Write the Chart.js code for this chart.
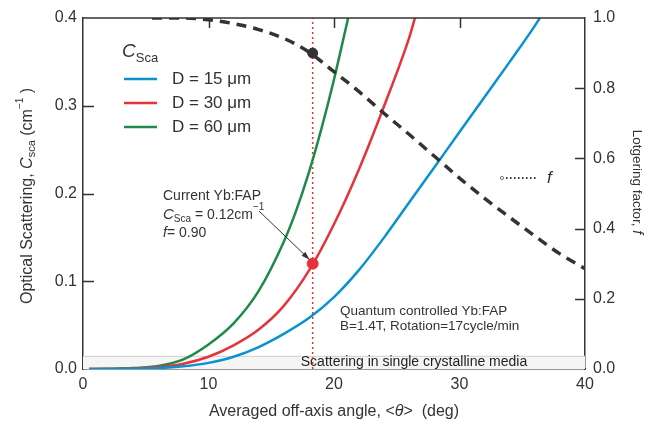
<!DOCTYPE html>
<html>
<head>
<meta charset="utf-8">
<script src="https://cdn.jsdelivr.net/npm/chart.js@4/dist/chart.umd.min.js"></script>
<style>
  html, body { margin: 0; padding: 0; background: #fff; }
  #wrap { width: 648px; height: 429px; }
</style>
</head>
<body>
<div id="wrap"><canvas id="chart" width="648" height="429"></canvas></div>
<script>
// Scattering curves, C_sca (cm^-1) vs averaged off-axis angle (deg)
const thetaD15 = [0.5, 2, 4, 6, 8, 10, 12, 14, 16, 18, 20, 22, 24, 26, 28, 30, 32, 34, 36, 36.4];
const csD15    = [0, 0, 0.0003, 0.001, 0.003, 0.007, 0.014, 0.025, 0.040, 0.058, 0.082, 0.113, 0.150, 0.190, 0.230, 0.270, 0.310, 0.350, 0.391, 0.4];

const thetaD30 = [0.5, 2, 4, 6, 8, 10, 12, 14, 16, 18, 20, 22, 24, 26, 26.45];
const csD30    = [0, 0.0001, 0.0007, 0.0022, 0.006, 0.014, 0.027, 0.045, 0.072, 0.112, 0.165, 0.228, 0.300, 0.378, 0.4];

const thetaD60 = [0.5, 2, 4, 6, 8, 10, 12, 14, 16, 17, 18, 19, 20, 21, 21.13];
const csD60    = [0, 0.0002, 0.001, 0.0035, 0.011, 0.028, 0.052, 0.089, 0.145, 0.181, 0.224, 0.274, 0.330, 0.392, 0.4];

// Lotgering factor f (right axis)
const thetaF = [5.5, 8, 10, 12, 14, 16, 18, 20, 22, 24, 26, 28, 30, 32, 34, 36, 38, 40];
const valF   = [1.0, 1.0, 0.995, 0.984, 0.967, 0.942, 0.903, 0.847, 0.79, 0.728, 0.668, 0.606, 0.544, 0.486, 0.432, 0.379, 0.328, 0.286];

// current Yb:FAP point
const currentTheta = 18.3;
const currentCsca = 0.12;
const currentF = 0.90;

// scattering floor band
const bandTop = 0.015;

const xTicks = [0, 10, 20, 30, 40];
const yTicks = [0, 0.1, 0.2, 0.3, 0.4];
const y2Ticks = [0, 0.2, 0.4, 0.6, 0.8, 1.0];

const legendLabels = ["D = 15 \u03bcm", "D = 30 \u03bcm", "D = 60 \u03bcm"];
const BLUE = "#0a91d2", RED = "#e5323b", GREEN = "#1d8a47", INK = "#333333";
const FONT = "'Liberation Sans', Arial, sans-serif";

function pts(xs, ys) {
  return xs.map((x, i) => ({ x: x, y: ys[i] }));
}

// draw a row of text pieces: [text, font, dy]
function drawRuns(ctx, parts, x, y, align) {
  let total = 0;
  parts.forEach(p => { ctx.font = p[1]; total += ctx.measureText(p[0]).width; });
  let cx = align === "center" ? x - total / 2 : x;
  ctx.textAlign = "left";
  ctx.textBaseline = "middle";
  parts.forEach(p => {
    ctx.font = p[1];
    ctx.fillText(p[0], cx, y + (p[2] || 0));
    cx += ctx.measureText(p[0]).width;
  });
}

const decor = {
  id: "decor",
  beforeDatasetsDraw(chart) {
    const ctx = chart.ctx, a = chart.chartArea, y = chart.scales.y;
    const top = y.getPixelForValue(bandTop);
    ctx.save();
    ctx.fillStyle = "#f5f5f5";
    ctx.fillRect(a.left, top, a.right - a.left, a.bottom - top);
    ctx.strokeStyle = "#cfcfcf";
    ctx.lineWidth = 1;
    ctx.beginPath();
    ctx.moveTo(a.left, top + 0.5);
    ctx.lineTo(a.right, top + 0.5);
    ctx.stroke();
    ctx.fillStyle = "#222";
    drawRuns(ctx, [["Scattering in single crystalline media", "14px " + FONT]], 414, (top + a.bottom) / 2, "center");
    ctx.restore();
  },
  afterDatasetsDraw(chart) {
    const ctx = chart.ctx, a = chart.chartArea;
    const sx = chart.scales.x, sy = chart.scales.y, sy2 = chart.scales.y2;
    ctx.save();

    // frame top line + inward ticks
    ctx.strokeStyle = INK;
    ctx.lineWidth = 1.5;
    ctx.beginPath();
    ctx.moveTo(a.left, a.top);
    ctx.lineTo(a.right, a.top);
    yTicks.slice(1, -1).forEach(v => {
      const py = Math.round(sy.getPixelForValue(v)) + 0.5;
      ctx.moveTo(a.left, py); ctx.lineTo(a.left + 11, py);
    });
    y2Ticks.slice(1, -1).forEach(v => {
      const py = Math.round(sy2.getPixelForValue(v)) + 0.5;
      ctx.moveTo(a.right, py); ctx.lineTo(a.right - 10, py);
    });
    xTicks.slice(1, -1).forEach(v => {
      const px = Math.round(sx.getPixelForValue(v)) + 0.5;
      ctx.moveTo(px, a.top); ctx.lineTo(px, a.top + 10);
    });
    ctx.stroke();

    ctx.fillStyle = INK;

    // legend
    drawRuns(ctx, [["C", "italic 19px " + FONT], ["Sca", "13px " + FONT, 6]], 122, 52, "left");
    [BLUE, RED, GREEN].forEach((c, i) => {
      const ly = 79 + i * 24;
      ctx.strokeStyle = c;
      ctx.lineWidth = 2.5;
      ctx.beginPath();
      ctx.moveTo(124, ly); ctx.lineTo(157, ly);
      ctx.stroke();
      ctx.fillStyle = INK;
      drawRuns(ctx, [[legendLabels[i], "17px " + FONT]], 172, ly, "left");
    });

    // current Yb:FAP note
    drawRuns(ctx, [["Current Yb:FAP", "14px " + FONT]], 163, 196, "left");
    drawRuns(ctx, [["C", "italic 15px " + FONT], ["Sca", "10px " + FONT, 4], [" = 0.12cm", "14px " + FONT], ["\u22121", "10px " + FONT, -8]], 163, 215, "left");
    drawRuns(ctx, [["f", "italic 14px " + FONT], ["= 0.90", "14px " + FONT]], 163, 233, "left");

    // arrow to red point
    const tx = sx.getPixelForValue(currentTheta) - 3, ty = sy.getPixelForValue(currentCsca) - 4;
    const fx = 259, fy = 211;
    const ang = Math.atan2(ty - fy, tx - fx);
    ctx.strokeStyle = INK;
    ctx.lineWidth = 1;
    ctx.beginPath();
    ctx.moveTo(fx, fy); ctx.lineTo(tx, ty);
    ctx.stroke();
    ctx.beginPath();
    ctx.moveTo(tx, ty);
    ctx.lineTo(tx - 9 * Math.cos(ang - 0.3), ty - 9 * Math.sin(ang - 0.3));
    ctx.lineTo(tx - 9 * Math.cos(ang + 0.3), ty - 9 * Math.sin(ang + 0.3));
    ctx.closePath();
    ctx.fill();

    // quantum controlled note
    drawRuns(ctx, [["Quantum controlled Yb:FAP", "13.5px " + FONT]], 340, 311, "left");
    drawRuns(ctx, [["B=1.4T, Rotation=17cycle/min", "13.5px " + FONT]], 340, 326, "left");

    // f key
    ctx.strokeStyle = "#777";
    ctx.lineWidth = 1;
    ctx.beginPath();
    ctx.arc(502, 178, 1.6, 0, Math.PI * 2);
    ctx.stroke();
    ctx.strokeStyle = INK;
    ctx.lineWidth = 2;
    ctx.setLineDash([1.5, 2.5]);
    ctx.beginPath();
    ctx.moveTo(506, 178); ctx.lineTo(537, 178);
    ctx.stroke();
    ctx.setLineDash([]);
    drawRuns(ctx, [["f", "italic 17px " + FONT]], 547, 178, "left");
    ctx.restore();
  },
  afterDraw(chart) {
    const ctx = chart.ctx;
    ctx.save();
    ctx.fillStyle = INK;
    // left axis title
    ctx.translate(28, 196);
    ctx.rotate(-Math.PI / 2);
    drawRuns(ctx, [["Optical Scattering, ", "16px " + FONT], ["C", "italic 16px " + FONT], ["sca", "11px " + FONT, 4],
      [" (cm", "16px " + FONT], ["\u22121", "10px " + FONT, -8], [" )", "16px " + FONT]], 0, 0, "center");
    ctx.restore();

    ctx.save();
    ctx.fillStyle = INK;
    ctx.translate(637, 182);
    ctx.rotate(Math.PI / 2);
    drawRuns(ctx, [["Lotgering factor, ", "13.5px " + FONT], ["f", "italic 14px " + FONT]], 0, 0, "center");
    ctx.restore();

    ctx.save();
    ctx.fillStyle = INK;
    drawRuns(ctx, [["Averaged off-axis angle, <", "16px " + FONT], ["\u03b8", "italic 16px " + FONT], [">  (deg)", "16px " + FONT]], 334, 412, "center");
    ctx.restore();
  }
};

const lineStyle = { pointRadius: 0, borderWidth: 2.5, fill: false, cubicInterpolationMode: "monotone" };

new Chart(document.getElementById("chart"), {
  type: "line",
  data: {
    datasets: [
      { data: [{ x: currentTheta, y: currentCsca }], yAxisID: "y", showLine: false, pointRadius: 5.5,
        pointBackgroundColor: RED, pointBorderColor: RED },
      { data: [{ x: currentTheta, y: currentF }], yAxisID: "y2", showLine: false, pointRadius: 5,
        pointBackgroundColor: INK, pointBorderColor: INK },
      Object.assign({ data: pts(thetaF, valF), yAxisID: "y2", borderColor: INK, borderWidth: 3.5, borderDash: [10, 7] }, { pointRadius: 0, fill: false, cubicInterpolationMode: "monotone" }),
      Object.assign({ data: pts(thetaD15, csD15), yAxisID: "y", borderColor: BLUE }, lineStyle),
      Object.assign({ data: pts(thetaD30, csD30), yAxisID: "y", borderColor: RED }, lineStyle),
      Object.assign({ data: pts(thetaD60, csD60), yAxisID: "y", borderColor: GREEN }, lineStyle),
      { data: [{ x: currentTheta, y: 0 }, { x: currentTheta, y: 0.4 }], yAxisID: "y", borderColor: RED,
        borderWidth: 1.5, borderDash: [2, 3], pointRadius: 0, fill: false }
    ]
  },
  options: {
    responsive: false,
    animation: false,
    devicePixelRatio: 1,
    layout: { padding: { top: 18, left: 0, right: 0, bottom: 0 } },
    plugins: { legend: { display: false }, tooltip: { enabled: false } },
    scales: {
      x: {
        type: "linear", min: 0, max: 40,
        ticks: { stepSize: 10, color: INK, font: { family: FONT, size: 16 }, padding: 6, maxRotation: 0 },
        grid: { display: false, drawTicks: false },
        border: { display: true, color: INK, width: 1.5 },
        afterFit: s => { s.height = 60; }
      },
      y: {
        position: "left", min: 0, max: 0.4,
        ticks: { stepSize: 0.1, color: INK, font: { family: FONT, size: 16 }, padding: 6, callback: v => v.toFixed(1) },
        grid: { display: false, drawTicks: false },
        border: { display: true, color: INK, width: 1.5 },
        afterFit: s => { s.width = 83; }
      },
      y2: {
        position: "right", min: 0, max: 1,
        ticks: { stepSize: 0.2, color: INK, font: { family: FONT, size: 16 }, padding: 8, callback: v => v.toFixed(1) },
        grid: { display: false, drawTicks: false },
        border: { display: true, color: INK, width: 1.5 },
        afterFit: s => { s.width = 63; }
      }
    }
  },
  plugins: [decor]
});
</script>
</body>
</html>
